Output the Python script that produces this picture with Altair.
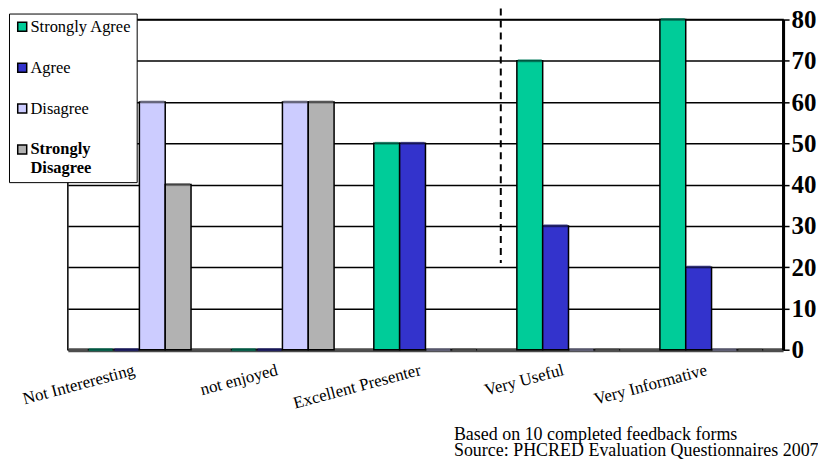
import altair as alt
import pandas as pd

categories = ["Not Intereresting", "not enjoyed", "Excellent Presenter", "Very Useful", "Very Informative"]
series = ["Strongly Agree", "Agree", "Disagree", "Strongly Disagree"]
strongly_agree = [0, 0, 50, 70, 80]
agree = [0, 0, 50, 30, 20]
disagree = [60, 60, 0, 0, 0]
strongly_disagree = [40, 60, 0, 0, 0]
y_ticks = [0, 10, 20, 30, 40, 50, 60, 70, 80]
footnote = ["Based on 10 completed feedback forms", "Source: PHCRED Evaluation Questionnaires 2007"]

fill_colors = ["#00CC99", "#3333CC", "#CCCCFF", "#B2B2B2"]
cap_colors = ["#007a5c", "#1f1f7a", "#7a7a99", "#5f5f5f"]

rows = []
for s, vals in zip(series, [strongly_agree, agree, disagree, strongly_disagree]):
    for c, v in zip(categories, vals):
        rows.append({"category": c, "series": s, "value": v})
df = pd.DataFrame(rows)

FONT = "Liberation Serif"

x_enc = alt.X(
    "category:N", sort=categories,
    scale=alt.Scale(paddingInner=0.2778, paddingOuter=0.139),
    axis=alt.Axis(title=None, labelAngle=345, labelAlign="right", labelBaseline="top",
                  labelPadding=12, labelOffset=-7, labelFont=FONT, labelFontSize=17,
                  labelColor="black", ticks=False, domainColor="#4d4d4d", domainWidth=4,
                  labelLimit=300),
)
xo_enc = alt.XOffset("series:N", sort=series, scale=alt.Scale(paddingInner=0, paddingOuter=0))
y_enc = alt.Y(
    "value:Q", scale=alt.Scale(domain=[0, 80], nice=False),
    axis=alt.Axis(orient="right", title=None, values=y_ticks, grid=True, gridColor="black",
                  gridWidth=1.5, domainColor="black", domainWidth=3, tickColor="black",
                  tickWidth=1.5, tickSize=6, labelFont=FONT, labelFontSize=25,
                  labelFontWeight="bold", labelColor="black", labelPadding=2),
)

legend = alt.Legend(
    title=None, orient="none", legendX=-59, legendY=-6,
    strokeColor="black", fillColor="white", padding=5, rowPadding=24,
    symbolType="square", symbolSize=81, symbolStrokeColor="black", symbolStrokeWidth=1.5,
    labelFont=FONT, labelFontSize=16.5, labelColor="black", labelOffset=0, labelLimit=300,
    labelExpr="datum.label == 'Strongly Disagree' ? ['Strongly', 'Disagree'] : datum.label",
    labelFontWeight={"expr": "datum.label == 'Strongly Disagree' ? 'bold' : 'normal'"},
)

bars = alt.Chart(df).mark_bar(stroke="black", strokeWidth=1.5).encode(
    x=x_enc, xOffset=xo_enc, y=y_enc,
    color=alt.Color("series:N", sort=series,
                    scale=alt.Scale(domain=series, range=fill_colors), legend=legend),
)

caps = alt.Chart(df).mark_tick(thickness=3, size=24).encode(
    x=x_enc, xOffset=xo_enc, y=y_enc,
    color=alt.Color("series:N", sort=series,
                    scale=alt.Scale(domain=series, range=cap_colors), legend=None),
)

marker = alt.Chart(pd.DataFrame({"a": [0]})).mark_rule(
    color="black", strokeWidth=2, strokeDash=[7, 5]
).encode(x=alt.value(434), y=alt.value(-11), y2=alt.value(244))

notes = alt.Chart(pd.DataFrame({"a": [0]})).mark_text(
    text=footnote, align="left", baseline="alphabetic", font=FONT, fontSize=18,
    lineHeight=16, color="black"
).encode(x=alt.value(387), y=alt.value(422))

chart = alt.layer(bars, caps, marker, notes).resolve_scale(color="independent").properties(
    width=717, height=331,
    autosize=alt.AutoSizeParams(type="none"),
    padding={"left": 60, "top": 11, "right": 35, "bottom": 110},
).configure_view(stroke="black", strokeWidth=1.5)

chart.save("out.html", embed_options={"renderer": "svg", "actions": False})
